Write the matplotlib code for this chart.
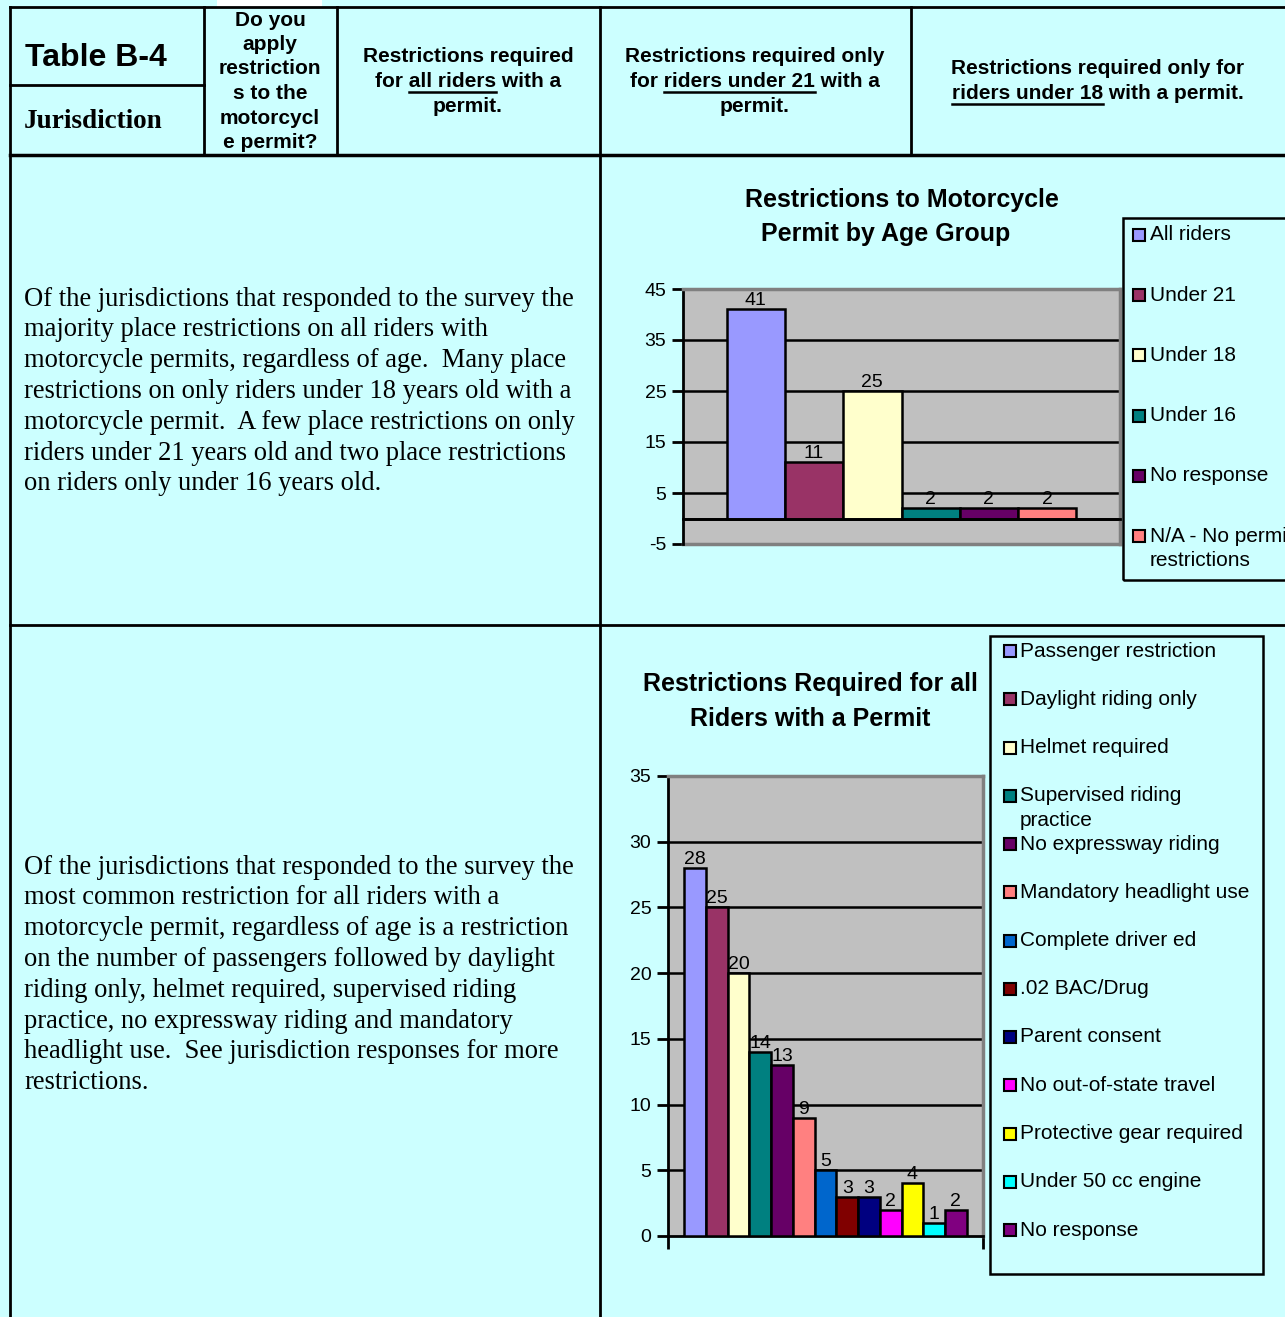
import matplotlib
matplotlib.use("Agg")
import matplotlib.pyplot as plt
from matplotlib.lines import Line2D
from matplotlib.patches import Rectangle

W, H = 1285, 1317
BG = "#CCFFFF"
SANS = "Liberation Sans"
SERIF = "Liberation Serif"
plt.rcParams["axes.unicode_minus"] = False

# chart 1: restrictions by age group
age_groups = ["All riders", "Under 21", "Under 18", "Under 16", "No response",
              "N/A - No permit\nrestrictions"]
age_counts = [41, 11, 25, 2, 2, 2]
age_colors = ["#9999FF", "#993366", "#FFFFCC", "#008080", "#660066", "#FF8080"]
age_ticks = [-5, 5, 15, 25, 35, 45]

# chart 2: restrictions for all riders
restrictions = ["Passenger restriction", "Daylight riding only", "Helmet required",
                "Supervised riding\npractice", "No expressway riding",
                "Mandatory headlight use", "Complete driver ed", ".02 BAC/Drug",
                "Parent consent", "No out-of-state travel", "Protective gear required",
                "Under 50 cc engine", "No response"]
restriction_counts = [28, 25, 20, 14, 13, 9, 5, 3, 3, 2, 4, 1, 2]
restriction_colors = ["#9999FF", "#993366", "#FFFFCC", "#008080", "#660066", "#FF8080",
                      "#0066CC", "#800000", "#000080", "#FF00FF", "#FFFF00", "#00FFFF",
                      "#800080"]
restriction_ticks = [0, 5, 10, 15, 20, 25, 30, 35]

para1 = ["Of the jurisdictions that responded to the survey the",
         "majority place restrictions on all riders with",
         "motorcycle permits, regardless of age.  Many place",
         "restrictions on only riders under 18 years old with a",
         "motorcycle permit.  A few place restrictions on only",
         "riders under 21 years old and two place restrictions",
         "on riders only under 16 years old."]
para2 = ["Of the jurisdictions that responded to the survey the",
         "most common restriction for all riders with a",
         "motorcycle permit, regardless of age is a restriction",
         "on the number of passengers followed by daylight",
         "riding only, helmet required, supervised riding",
         "practice, no expressway riding and mandatory",
         "headlight use.  See jurisdiction responses for more",
         "restrictions."]

question_lines = ["Do you", "apply", "restriction", "s to the", "motorcycl", "e permit?"]
# header columns: (center x, first line y, [(line, underlined part)])
header_cols = [
    (468, 57, [("Restrictions required", None), ("for all riders with a", "all riders"),
               ("permit.", None)]),
    (755, 57, [("Restrictions required only", None),
               ("for riders under 21 with a", "riders under 21"), ("permit.", None)]),
    (1098, 69, [("Restrictions required only for", None),
                ("riders under 18 with a permit.", "riders under 18")]),
]

HEAD_FS = 15
BODY_FS = 19.1
TITLE_FS = 18
LEGEND_FS = 15
TICK_FS = 14
LABEL_FS = 14


def fx(px):
    return px / W


def fy(py):
    return 1 - py / H


def hline(fig, x0, x1, y, lw=2.0, color="black"):
    fig.add_artist(Line2D([fx(x0), fx(x1)], [fy(y), fy(y)], color=color, lw=lw))


def vline(fig, x, y0, y1, lw=2.0, color="black"):
    fig.add_artist(Line2D([fx(x), fx(x)], [fy(y0), fy(y1)], color=color, lw=lw))


def axes_px(fig, left, top, right, bottom):
    return fig.add_axes([fx(left), fy(bottom), (right - left) / W, (bottom - top) / H])


def bar_chart(ax, counts, colors, ticks, xlim, zero_inside):
    ax.set_facecolor("#C0C0C0")
    for i, (v, c) in enumerate(zip(counts, colors)):
        ax.bar(i, v, width=1.0, color=c, edgecolor="black", linewidth=1.8, zorder=3)
        ax.text(i, v, str(v), ha="center", va="bottom", fontsize=LABEL_FS,
                family=SANS, zorder=4)
    ax.set_xlim(*xlim)
    ax.set_ylim(ticks[0], ticks[-1])
    ax.set_yticks(ticks)
    for t in ticks[1:-1]:
        if t != 0:
            ax.axhline(t, color="black", lw=1.8, zorder=1)
    for side in ["top", "right"]:
        ax.spines[side].set_color("#808080")
        ax.spines[side].set_linewidth(2.5)
    ax.spines["left"].set_linewidth(2.0)
    ax.spines["bottom"].set_linewidth(2.0)
    if zero_inside:
        ax.axhline(ticks[0], color="#808080", lw=2.5, zorder=2, clip_on=False)
        ax.spines["bottom"].set_position(("data", 0))
        ax.spines["bottom"].set_zorder(5)
    ax.set_xticks([xlim[1]] if zero_inside else list(xlim))
    ax.set_xticklabels([])
    ax.tick_params(axis="x", direction="out", length=9, width=2)
    ax.tick_params(axis="y", direction="out", length=8, width=2, labelsize=TICK_FS,
                   pad=4)
    for lab in ax.get_yticklabels():
        lab.set_family(SANS)


def legend_box(fig, labels, colors, left, top, right, bottom, first_y, step,
               sq_x, text_x, line_step):
    fig.add_artist(Rectangle((fx(left), fy(bottom)), (right - left) / W, (bottom - top) / H,
                             facecolor="none", edgecolor="black", lw=1.8,
                             transform=fig.transFigure))
    for i, (lab, c) in enumerate(zip(labels, colors)):
        y = first_y + i * step
        fig.add_artist(Rectangle((fx(sq_x), fy(y + 6)), 12 / W, 12 / H, facecolor=c,
                                 edgecolor="black", lw=1.5, transform=fig.transFigure))
        for j, part in enumerate(lab.split("\n")):
            fig.text(fx(text_x), fy(y + j * line_step), part, ha="left", va="center",
                     fontsize=LEGEND_FS, family=SANS)


fig = plt.figure(figsize=(W / 100, H / 100), dpi=100, facecolor=BG)
renderer = fig.canvas.get_renderer()

# white gap above the question cell
fig.add_artist(Rectangle((fx(217), fy(7)), 105 / W, 7 / H, facecolor="white",
                         edgecolor="none", transform=fig.transFigure))

# table grid
hline(fig, 10, W, 7)
hline(fig, 10, W, 155, lw=2.5)
hline(fig, 10, 204, 85)
hline(fig, 10, W, 625)
vline(fig, 10, 7, H)
vline(fig, 204, 7, 155)
vline(fig, 337, 7, 155)
vline(fig, 600, 7, H)
vline(fig, 911, 7, 155)

fig.text(fx(25), fy(58), "Table B-4", ha="left", va="center", fontsize=23,
         fontweight="bold", family=SANS)
fig.text(fx(24), fy(121), "Jurisdiction", ha="left", va="center", fontsize=19.5,
         fontweight="bold", family=SERIF)
for i, line in enumerate(question_lines):
    fig.text(fx(270), fy(20 + i * 24.5), line, ha="center", va="center", fontsize=HEAD_FS,
             fontweight="bold", family=SANS)

for cx, y0, lines in header_cols:
    for i, (line, under) in enumerate(lines):
        y = y0 + i * 24.5
        t = fig.text(fx(cx), fy(y), line, ha="center", va="center", fontsize=HEAD_FS,
                     fontweight="bold", family=SANS)
        if under:
            full = t.get_window_extent(renderer).width
            start = line.index(under)
            probe = fig.text(0, 0, line[:start + len(under)], fontsize=HEAD_FS,
                             fontweight="bold", family=SANS)
            w_to_end = probe.get_window_extent(renderer).width
            probe.remove()
            probe = fig.text(0, 0, under, fontsize=HEAD_FS, fontweight="bold", family=SANS)
            w_under = probe.get_window_extent(renderer).width
            probe.remove()
            x_end = cx - full / 2 + w_to_end
            hline(fig, x_end - w_under, x_end, y + 10.5, lw=1.8)

for i, line in enumerate(para1):
    fig.text(fx(24), fy(299 + i * 30.8), line, ha="left", va="center", fontsize=BODY_FS,
             family=SERIF)
for i, line in enumerate(para2):
    fig.text(fx(24), fy(867 + i * 30.8), line, ha="left", va="center", fontsize=BODY_FS,
             family=SERIF)

# chart 1
ax1 = axes_px(fig, 683, 289, 1120, 544)
bar_chart(ax1, age_counts, age_colors, age_ticks, (-1.25, 6.25), True)
ax1.axhline(0, color="black", lw=2.0, zorder=2)
fig.text(fx(902), fy(200), "Restrictions to Motorcycle", ha="center", va="center",
         fontsize=TITLE_FS, fontweight="bold", family=SANS)
fig.text(fx(886), fy(234), "Permit by Age Group", ha="center", va="center",
         fontsize=TITLE_FS, fontweight="bold", family=SANS)
legend_box(fig, age_groups, age_colors, 1123, 218, 1300, 580, 235, 60.2, 1133, 1150, 24)

# chart 2
ax2 = axes_px(fig, 668, 776, 983, 1236)
bar_chart(ax2, restriction_counts, restriction_colors, restriction_ticks,
          (-1.25, 13.25), False)
fig.text(fx(810), fy(684), "Restrictions Required for all", ha="center", va="center",
         fontsize=TITLE_FS, fontweight="bold", family=SANS)
fig.text(fx(810), fy(719), "Riders with a Permit", ha="center", va="center",
         fontsize=TITLE_FS, fontweight="bold", family=SANS)
legend_box(fig, restrictions, restriction_colors, 990, 636, 1263, 1274, 651, 48.25,
           1004, 1020, 25)

fig.savefig("out.png", dpi=100, facecolor=BG)
